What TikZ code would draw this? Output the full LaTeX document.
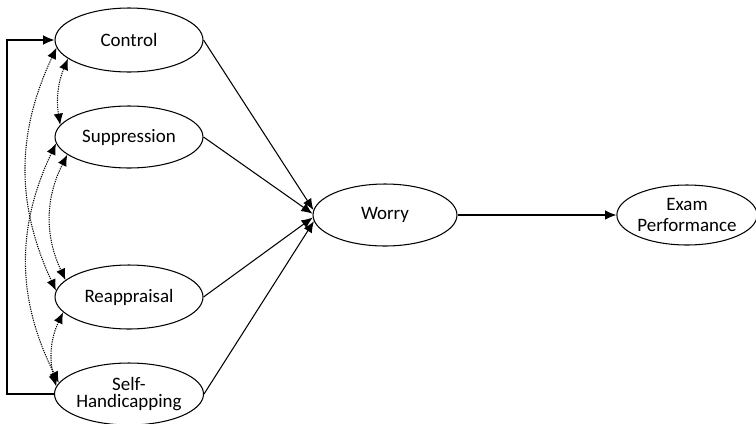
\documentclass[tikz,border=0pt]{standalone}
\usepackage{fontspec}
\setmainfont{Carlito}
\usetikzlibrary{arrows.meta, shapes.geometric}

\tikzset{
  var/.style = {draw, ellipse, line width=0.6pt, inner sep=0pt,
    minimum width=2.96cm, minimum height=1.28cm, align=center,
    font=\fontsize{10.8}{9.8}\selectfont},
  arr/.style = {line width=0.6pt, -{Latex[length=6.4pt, width=5.4pt]}},
  cov/.style = {line width=0.6pt, dash pattern=on 0.7pt off 0.6pt,
    {Latex[length=6.4pt, width=5.4pt]}-{Latex[length=6.4pt, width=5.4pt]}}
}

\begin{document}
\begin{tikzpicture}[x=0.02cm, y=-0.02cm]
  \useasboundingbox (0, 0) rectangle (756, 423);
  % nodes
  \node[var] (ctrl) at (129, 40) {Control};
  \node[var, minimum height=1.24cm] (supp) at (129, 137) {Suppression};
  \node[var] (reap) at (129, 297) {Reappraisal};
  \node[var, minimum height=1.24cm] (self) at (129, 394) {Self-\\Handicapping};
  \node[var, minimum width=2.88cm, minimum height=1.24cm] (worry) at (385, 215) {Worry};
  \node[var, minimum width=2.76cm, minimum height=1.2cm,
    font=\fontsize{10.8}{11.6}\selectfont] (exam) at (687, 215) {Exam\\Performance};
  \coordinate (lb) at (7, 394);
  \coordinate (lt) at (7, 40);
  % lines
  \draw[arr] (ctrl.east) -- (worry.176);
  \draw[arr] (supp.east) -- (worry.179);
  \draw[arr] (reap.east) -- (worry.182);
  \draw[arr] (self.east) -- (worry.185);
  \draw[arr] (worry.east) -- (exam.west);
  \draw[arr] (self.west) -- (lb) -- (lt) -- (ctrl.west);
  % covariances
  \draw[cov] (ctrl.197) to[bend right=16] (supp.170);
  \draw[cov] (ctrl.186) to[bend right=25] (reap.175);
  \draw[cov] (supp.196) to[bend right=26] (reap.165);
  \draw[cov] (supp.185) to[bend right=26] (self.171);
  \draw[cov] (reap.193) to[bend right=20] (self.174);
\end{tikzpicture}
\end{document}
